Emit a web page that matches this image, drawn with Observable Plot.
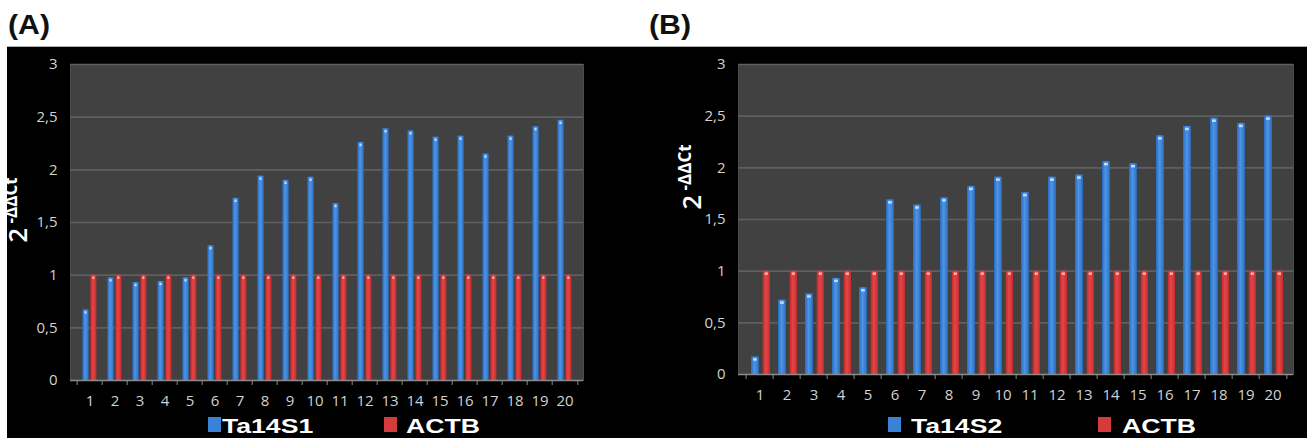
<!DOCTYPE html>
<html><head><meta charset="utf-8">
<script src="https://cdn.jsdelivr.net/npm/d3@7"></script>
<script src="https://cdn.jsdelivr.net/npm/@observablehq/plot@0.6"></script>
<style>
body{margin:0;background:#fff;}
#root{position:relative;width:1307px;height:438px;overflow:hidden;background:#fff;font-family:"Liberation Sans",Arial,sans-serif;}
#root svg text{font-size:15px !important;font-family:"Open Sans",sans-serif !important;font-weight:400;}
.black{position:absolute;left:7px;top:46px;width:1300px;height:392px;background:#000;border-top:1px solid #b0b0b0;}
.panel{position:absolute;top:47px;}
.title{position:absolute;top:12px;font-size:27px;font-weight:bold;line-height:1;color:#111;transform:scaleX(1.12);transform-origin:left top;}
.ylab{position:absolute;color:#fff;white-space:nowrap;font-family:"Open Sans",sans-serif;font-weight:bold;transform:translate(-50%,-50%) rotate(-90deg);line-height:1;}
.ylab .b{font-size:26px;font-weight:600;}
.ylab .s{font-size:17px;position:relative;top:-10px;}
.sw{position:absolute;width:13px;height:15px;}
.lt{position:absolute;color:#fff;font-size:20px;font-weight:bold;line-height:1;transform:scaleX(1.33);transform-origin:left top;}
</style></head>
<body><div id="root">
<div class="black"></div>
<div class="title" style="left:8px">(A)</div>
<div class="title" style="left:649px">(B)</div>
</div>
<script>
const categories = ["1","2","3","4","5","6","7","8","9","10","11","12","13","14","15","16","17","18","19","20"];
const ta14s1 = [0.67,0.975,0.93,0.94,0.975,1.28,1.73,1.94,1.90,1.93,1.68,2.26,2.39,2.37,2.31,2.32,2.15,2.32,2.41,2.47];
const actbA  = [1,1,1,1,1,1,1,1,1,1,1,1,1,1,1,1,1,1,1,1];
const ta14s2 = [0.17,0.72,0.78,0.93,0.84,1.69,1.64,1.71,1.82,1.91,1.76,1.91,1.93,2.06,2.04,2.31,2.40,2.48,2.43,2.50];
const actbB  = [1,1,1,1,1,1,1,1,1,1,1,1,1,1,1,1,1,1,1,1];
const yTicks = [0,0.5,1,1.5,2,2.5,3];
const yTickLabels = ["0","0,5","1","1,5","2","2,5","3"];
const seriesA = ["Ta14S1","ACTB"];
const seriesB = ["Ta14S2","ACTB"];
const BLUE = "#3a82d6", RED = "#d63b3b";

function panel(cfg){
  const data = categories.map((c,i)=>({cat:c, blue:cfg.blue[i], red:cfg.red[i]}));
  const bw = (cfg.width - cfg.mL - cfg.mR)/categories.length;
  const bl = [cfg.bPos[0]*bw, (1-cfg.bPos[1])*bw];
  const rl = [cfg.rPos[0]*bw, (1-cfg.rPos[1])*bw];
  const id = cfg.id;
  const svg = Plot.plot({
    width: cfg.width, height: 391,
    marginLeft: cfg.mL, marginRight: cfg.mR, marginTop: 17, marginBottom: cfg.mB,
    style: {background:"transparent", color:"#d2d2d2"},
    x: {domain: categories, padding: 0},
    y: {domain: [0,3]},
    marks: [
      Plot.frame({fill:"#414141", stroke:"#4c4c4c"}),
      Plot.ruleY(yTicks.slice(1), {stroke:"#5f5f5f", strokeWidth:1.6}),
      Plot.barY(data, {x:"cat", y:"blue", fill:`url(#gb${id})`, insetLeft:bl[0], insetRight:bl[1]}),
      Plot.barY(data, {x:"cat", y:"red", fill:`url(#gr${id})`, insetLeft:rl[0], insetRight:rl[1]}),
      Plot.tickY(data, {x:"cat", y:"blue", stroke:"#b9dcff", strokeWidth:2.5, dy:2.5, insetLeft:bl[0]+2, insetRight:bl[1]+2}),
      Plot.tickY(data, {x:"cat", y:"red", stroke:"#ffb0b0", strokeWidth:2.5, dy:2.5, insetLeft:rl[0]+2, insetRight:rl[1]+2}),
      Plot.ruleY([0], {stroke:"#8c8c8c", strokeWidth:1.5}),
      Plot.axisX({ticks: categories, tickSize:5, dx:-bw/2, tickFormat:()=>"", stroke:"#8c8c8c", label:null}),
      Plot.axisX({ticks: [categories[categories.length-1]], tickSize:5, dx:bw/2, tickFormat:()=>"", stroke:"#8c8c8c", label:null}),
      Plot.axisX({ticks: categories, tickSize:0, tickPadding:15, fill:"#d2d2d2", label:null}),
      Plot.axisY({ticks: yTicks, tickSize:0, tickPadding:13, fill:"#d2d2d2", label:null, tickFormat:(d)=>yTickLabels[yTicks.indexOf(d)]})
    ]
  });
  const ns = "http://www.w3.org/2000/svg";
  const defs = document.createElementNS(ns,"defs");
  defs.innerHTML = `
    <linearGradient id="gb${id}" x1="0" x2="1" y1="0" y2="0">
      <stop offset="0" stop-color="#2a6cc0"/><stop offset="0.45" stop-color="#4c95e6"/><stop offset="1" stop-color="#2e6fc4"/>
    </linearGradient>
    <linearGradient id="gr${id}" x1="0" x2="1" y1="0" y2="0">
      <stop offset="0" stop-color="#c02a2c"/><stop offset="0.45" stop-color="#e84545"/><stop offset="1" stop-color="#c42d2f"/>
    </linearGradient>`;
  svg.insertBefore(defs, svg.firstChild);
  const wrap = document.createElement("div");
  wrap.className = "panel";
  wrap.style.left = cfg.left + "px";
  wrap.appendChild(svg);
  return wrap;
}

const root = document.getElementById("root");
root.appendChild(panel({id:"A", left:0, width:650, mL:70, mR:67, mB:58, blue:ta14s1, red:actbA, bPos:[0.21,0.48], rPos:[0.52,0.78]}));
root.appendChild(panel({id:"B", left:650, width:657, mL:88, mR:14, mB:64, blue:ta14s2, red:actbB, bPos:[0.18,0.49], rPos:[0.60,0.89]}));

function ylab(x,y){
  const d = document.createElement("div");
  d.className = "ylab";
  d.style.left = x+"px"; d.style.top = y+"px";
  d.innerHTML = '<span class="b">2</span><span class="s"> -ΔΔCt</span>';
  root.appendChild(d);
}
ylab(17,210);
ylab(691,177);

function legend(items){
  for (const it of items){
    const s = document.createElement("div");
    s.className = "sw"; s.style.left = it.sx+"px"; s.style.top = "417px"; s.style.background = it.color;
    root.appendChild(s);
    const t = document.createElement("div");
    t.className = "lt"; t.style.left = it.tx+"px"; t.style.top = "416px"; t.textContent = it.label;
    root.appendChild(t);
  }
}
legend([{label:seriesA[0], color:BLUE, sx:208, tx:222},{label:seriesA[1], color:RED, sx:384, tx:406}]);
legend([{label:seriesB[0], color:BLUE, sx:888, tx:911},{label:seriesB[1], color:RED, sx:1098, tx:1122}]);
</script>
</body></html>
